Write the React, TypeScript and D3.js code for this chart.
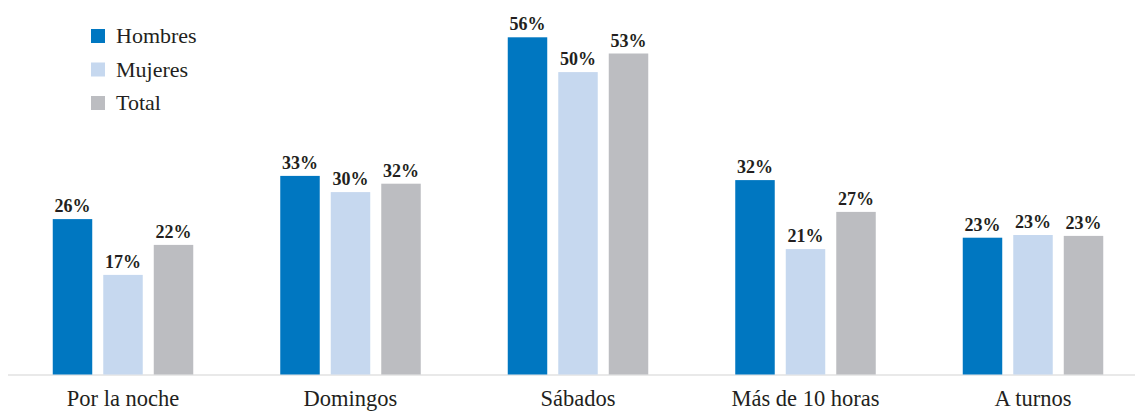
import React from "react";
import * as d3 from "d3";

const categories = ["Por la noche", "Domingos", "Sábados", "Más de 10 horas", "A turnos"];
const seriesNames = ["Hombres", "Mujeres", "Total"];
const hombres = [25.9, 33.1, 56.2, 32.4, 22.8];
const mujeres = [16.6, 30.4, 50.4, 20.9, 23.25];
const total = [21.6, 31.8, 53.5, 27.1, 23.1];
const valueLabels = [
  ["26%", "33%", "56%", "32%", "23%"],
  ["17%", "30%", "50%", "21%", "23%"],
  ["22%", "32%", "53%", "27%", "23%"],
];
const colors = ["#0077c1", "#c6d8ef", "#bcbdc1"];

const W = 1135;
const H = 412;
const FONT = "'Palatino Linotype', 'Book Antiqua', Palatino, 'Liberation Serif', 'DejaVu Serif', serif";

export default function App() {
  const data = [hombres, mujeres, total];
  const x0 = d3.scaleBand<string>().domain(categories).range([9.25, 1146.75]).padding(0);
  const x1 = d3.scaleBand<string>().domain(seriesNames).range([0, 140.5]).paddingInner(0.218).paddingOuter(0);
  const y = d3.scaleLinear().domain([0, 60]).range([374.5, 14.5]);
  const base = y(0);

  return (
    <svg width={W} height={H} style={{ position: "absolute", left: 0, top: 0, background: "#fff" }} fontFamily={FONT}>
      <line x1={8} x2={1135} y1={base + 0.5} y2={base + 0.5} stroke="#d4d4d4" strokeWidth={1.2} />
      {categories.map((c, ci) => {
        const center = (x0(c) as number) + x0.bandwidth() / 2;
        const left = center - 70.25;
        return (
          <g key={c}>
            {seriesNames.map((s, si) => {
              const v = data[si][ci];
              const bx = left + (x1(s) as number);
              const by = y(v);
              return (
                <g key={s}>
                  <rect x={bx} y={by} width={x1.bandwidth()} height={base - by} fill={colors[si]} />
                  <text x={bx + x1.bandwidth() / 2} y={by - 7} textAnchor="middle" fontSize={18} fontWeight="bold" fill="#231f20">
                    {valueLabels[si][ci]}
                  </text>
                </g>
              );
            })}
            <text x={center} y={406} textAnchor="middle" fontSize={22.5} fill="#231f20">{c}</text>
          </g>
        );
      })}
      {seriesNames.map((s, i) => (
        <g key={s} transform={`translate(91, ${29 + i * 33.5})`}>
          <rect x={0} y={0} width={14} height={14} fill={colors[i]} />
          <text x={25} y={14} fontSize={22} fill="#231f20">{s}</text>
        </g>
      ))}
    </svg>
  );
}
